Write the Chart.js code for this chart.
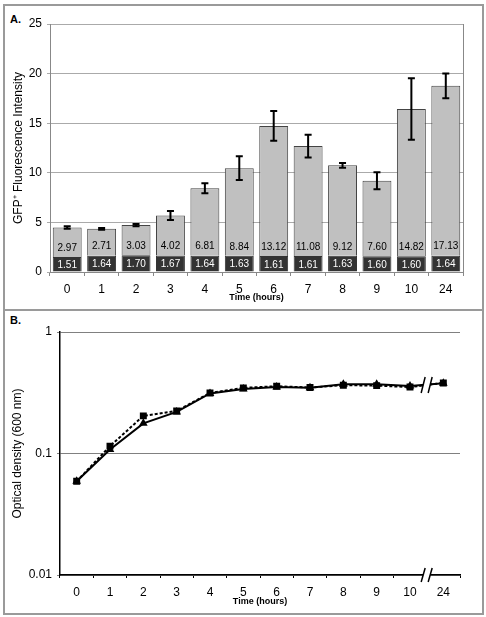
<!DOCTYPE html>
<html>
<head>
<meta charset="utf-8">
<script src="https://cdn.jsdelivr.net/npm/chart.js@4"></script>
<style>
  body { margin:0; background:#fff; width:486px; height:617px; position:relative; overflow:hidden; font-family:"Liberation Sans", Arial, sans-serif; }
  .frame { position:absolute; border:2px solid #9a9a9a; box-sizing:border-box; }
  .tag { position:absolute; font-weight:bold; font-size:11px; color:#000; }
  canvas { position:absolute; left:0; }
</style>
</head>
<body>
<div class="frame" style="left:3px;top:4px;width:481px;height:307px"></div>
<div class="frame" style="left:3px;top:309px;width:481px;height:306px"></div>
<div class="tag" style="left:10px;top:13px">A.</div>
<div class="tag" style="left:10px;top:314px">B.</div>
<canvas id="chartA" width="486" height="310" style="top:0"></canvas>
<canvas id="chartB" width="486" height="307" style="top:310px"></canvas>
<script>
// time points (hours)
var hours = ['0', '1', '2', '3', '4', '5', '6', '7', '8', '9', '10', '24'];

// panel A: GFP+ fluorescence, dark base + induced part, error on the total
var baseline = [1.51, 1.64, 1.70, 1.67, 1.64, 1.63, 1.61, 1.61, 1.63, 1.60, 1.60, 1.64];
var induced = [2.97, 2.71, 3.03, 4.02, 6.81, 8.84, 13.12, 11.08, 9.12, 7.60, 14.82, 17.13];
var errTotal = [0.12, 0.08, 0.12, 0.45, 0.5, 1.2, 1.5, 1.15, 0.25, 0.85, 3.1, 1.25];

// panel B: optical density at 600 nm
var odDotted = [0.059, 0.115, 0.204, 0.224, 0.315, 0.347, 0.358, 0.349, 0.365, 0.362, 0.352, 0.381];
var odSolid = [0.059, 0.108, 0.177, 0.220, 0.312, 0.340, 0.352, 0.347, 0.372, 0.372, 0.360, 0.379];
var odTicks = [0.01, 0.1, 1];

Chart.defaults.font.family = "'Liberation Sans', Arial, sans-serif";
Chart.defaults.color = '#000';

// value labels inside the bars
var barLabels = {
  id: 'barLabels',
  afterDatasetsDraw: function(chart) {
    var ctx = chart.ctx;
    var dark = chart.getDatasetMeta(0).data;
    var light = chart.getDatasetMeta(1).data;
    ctx.save();
    ctx.font = "10px 'Liberation Sans', Arial, sans-serif";
    ctx.textAlign = 'center';
    ctx.textBaseline = 'middle';
    dark.forEach(function(bar, i) {
      ctx.fillStyle = '#fff';
      ctx.fillText(baseline[i].toFixed(2), bar.x, (bar.y + bar.base) / 2 + 1);
      ctx.fillStyle = '#000';
      ctx.fillText(induced[i].toFixed(2), bar.x, light[i].base - 9);
    });
    ctx.restore();
  }
};

// error bars on top of the stacked bars
var errorBars = {
  id: 'errorBars',
  afterDatasetsDraw: function(chart) {
    var ctx = chart.ctx, x = chart.scales.x, y = chart.scales.y;
    ctx.save();
    ctx.strokeStyle = '#000';
    ctx.lineWidth = 2;
    hours.forEach(function(h, i) {
      var total = baseline[i] + induced[i];
      var px = x.getPixelForValue(i);
      var yt = y.getPixelForValue(total + errTotal[i]);
      var yb = y.getPixelForValue(total - errTotal[i]);
      ctx.beginPath();
      ctx.moveTo(px, yt); ctx.lineTo(px, yb);
      ctx.moveTo(px - 3.5, yt); ctx.lineTo(px + 3.5, yt);
      ctx.moveTo(px - 3.5, yb); ctx.lineTo(px + 3.5, yb);
      ctx.stroke();
    });
    ctx.restore();
  }
};

// right edge of plot box in A
var plotBox = {
  id: 'plotBox',
  afterDraw: function(chart) {
    var a = chart.chartArea, ctx = chart.ctx;
    ctx.save();
    ctx.strokeStyle = '#888';
    ctx.lineWidth = 1;
    ctx.beginPath();
    ctx.moveTo(a.right + 0.5, a.top);
    ctx.lineTo(a.right + 0.5, a.bottom);
    ctx.stroke();
    ctx.restore();
  }
};

new Chart(document.getElementById('chartA').getContext('2d'), {
  type: 'bar',
  data: {
    labels: hours,
    datasets: [{
      data: baseline,
      backgroundColor: '#333333',
      borderColor: '#333333',
      borderWidth: 1
    }, {
      data: induced,
      backgroundColor: '#c0c0c0',
      borderColor: '#444444',
      borderWidth: 1
    }]
  },
  options: {
    responsive: false,
    animation: false,
    layout: { padding: { top: 24, right: 23, left: 0, bottom: 0 } },
    datasets: { bar: { categoryPercentage: 1, barPercentage: 0.84 } },
    plugins: { legend: { display: false }, tooltip: { enabled: false } },
    scales: {
      x: {
        stacked: true,
        grid: { drawOnChartArea: false, tickLength: 4, color: '#888', offset: true },
        border: { color: '#888' },
        ticks: { font: { size: 12 }, padding: 6 },
        title: { display: true, text: 'Time (hours)', font: { size: 9, weight: 'bold' }, padding: { top: 0, bottom: 7 } },
        afterFit: function(s) { s.height = 38; }
      },
      y: {
        stacked: true,
        min: 0,
        max: 25,
        ticks: { stepSize: 5, font: { size: 12 }, padding: 5 },
        grid: { color: '#aaa', tickLength: 3 },
        border: { color: '#888' },
        title: { display: true, text: 'GFP\u207A Fluorescence Intensity', font: { size: 12 }, padding: { top: 11, bottom: 0 } },
        afterFit: function(s) { s.width = 50; }
      }
    }
  },
  plugins: [barLabels, errorBars, plotBox]
});

// axis / line break between 10 and 24 h
var breakMarks = {
  id: 'breakMarks',
  afterDraw: function(chart) {
    var ctx = chart.ctx, x = chart.scales.x, a = chart.chartArea;
    var xm = (x.getPixelForValue(10) + x.getPixelForValue(11)) / 2;
    var pts = chart.getDatasetMeta(0).data;
    var ym = (pts[10].y + pts[11].y) / 2;
    [[a.bottom, 7, 5], [ym, 8, 4]].forEach(function(b) {
      var yc = b[0], h = b[1];
      ctx.save();
      ctx.fillStyle = '#fff';
      ctx.fillRect(xm - 3.5, yc - 3, 7, 3 + b[2]);
      ctx.strokeStyle = '#000';
      ctx.lineWidth = 1.5;
      [-3.5, 3.5].forEach(function(dx) {
        ctx.beginPath();
        ctx.moveTo(xm + dx - 2, yc + h);
        ctx.lineTo(xm + dx + 2, yc - h);
        ctx.stroke();
      });
      ctx.restore();
    });
  }
};

new Chart(document.getElementById('chartB').getContext('2d'), {
  type: 'line',
  data: {
    labels: hours,
    datasets: [{
      data: odDotted,
      borderColor: '#000',
      backgroundColor: '#000',
      borderWidth: 2,
      borderDash: [3, 2],
      pointStyle: 'rect',
      pointRadius: 3.5,
      tension: 0
    }, {
      data: odSolid,
      borderColor: '#000',
      backgroundColor: '#000',
      borderWidth: 2,
      pointStyle: 'triangle',
      pointRadius: 3,
      tension: 0
    }]
  },
  options: {
    responsive: false,
    animation: false,
    layout: { padding: { top: 22, right: 26, left: 0, bottom: 0 } },
    plugins: { legend: { display: false }, tooltip: { enabled: false } },
    scales: {
      x: {
        offset: true,
        grid: { drawOnChartArea: false, tickLength: 3, color: '#000', offset: true },
        border: { color: '#000', width: 1.5 },
        ticks: { font: { size: 12 }, padding: 7 },
        title: { display: true, text: 'Time (hours)', font: { size: 9, weight: 'bold' }, padding: { top: 0, bottom: 10 } },
        afterFit: function(s) { s.height = 42; }
      },
      y: {
        type: 'logarithmic',
        min: 0.01,
        max: 1,
        afterBuildTicks: function(s) { s.ticks = odTicks.map(function(v) { return { value: v }; }); },
        ticks: { font: { size: 12 }, padding: 5, callback: function(v) { return String(v); } },
        grid: { color: '#808080', tickLength: 3 },
        border: { color: '#000', width: 1.5 },
        title: { display: true, text: 'Optical density (600 nm)', font: { size: 12 }, padding: { top: 10, bottom: 0 } },
        afterFit: function(s) { s.width = 60; }
      }
    }
  },
  plugins: [breakMarks]
});
</script>
</body>
</html>
